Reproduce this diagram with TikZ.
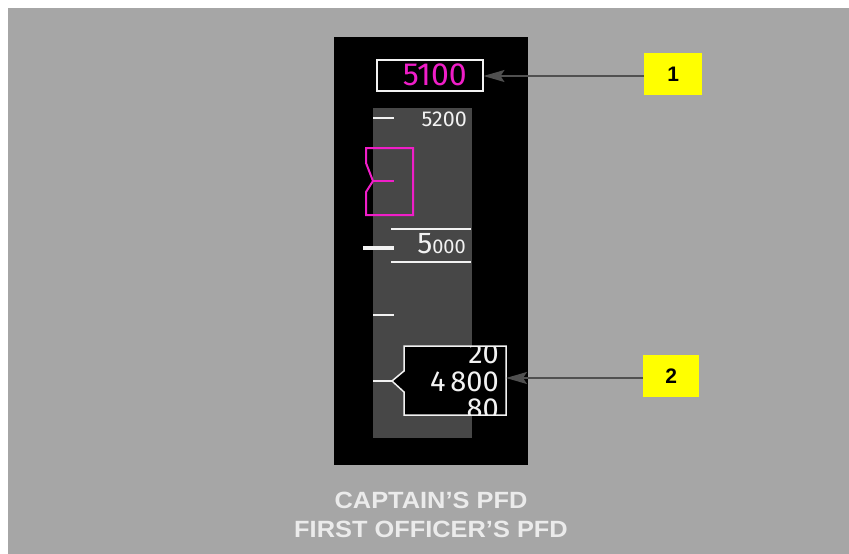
\documentclass[tikz,border=0pt]{standalone}
\usepackage{fontspec}
\setmainfont{Liberation Sans}
\newfontfamily\pfdfont{Fira Sans}
\usetikzlibrary{arrows.meta}
\definecolor{bggray}{HTML}{A6A6A6}
\definecolor{tapegray}{HTML}{474747}
\definecolor{pfdmag}{RGB}{240,30,200}
\definecolor{pfdwhite}{HTML}{F2F2F2}
\definecolor{capgray}{HTML}{EBEBEB}
\definecolor{arrowgray}{HTML}{505050}
\definecolor{calloutyellow}{HTML}{FFFF00}
\tikzset{
  x=1pt, y=-1pt,
  pfdtext/.style={inner sep=0pt, anchor=base east, text=pfdwhite},
  tickline/.style={draw=pfdwhite, line width=2pt},
  callout/.style={fill=calloutyellow, inner sep=0pt, font=\fontsize{21}{21}\selectfont\bfseries, text=black},
  callarrow/.style={draw=arrowgray, line width=1.6pt, -{Stealth[length=21pt, width=12pt, inset=4pt]}},
  captiontext/.style={inner sep=0pt, anchor=base, text=capgray, font=\fontsize{23.5}{29}\selectfont\bfseries, xscale=1.08},
}
\begin{document}
\begin{tikzpicture}
\useasboundingbox (0,0) rectangle (849,554);
\fill[white] (0,0) rectangle (849,554);
\fill[bggray] (8,8) rectangle (849,554);
% panel and tape
\fill[black] (334,37) rectangle (528,465);
\fill[tapegray] (373,108) rectangle (472,438);
% selected altitude box
\node[draw=pfdwhite, line width=1.5pt, minimum width=106pt, minimum height=31pt, inner sep=0pt, anchor=north west] (sel) at (376,59) {};
\node[pfdtext, text=pfdmag, font=\pfdfont\fontsize{32}{32}\selectfont] (seltext) at (467,85) {5100};
% 5200
\draw[tickline] (373,118) -- (394,118);
\node[pfdtext, font=\pfdfont\fontsize{21.5}{21.5}\selectfont] (t5200) at (467,126) {5200};
% magenta bug
\draw[pfdmag, line width=2pt] (366,148) -- (413,148) -- (413,215) -- (366,215) -- (366,192) -- (373,181) -- (366,163) -- cycle;
\draw[pfdmag, line width=2pt] (373,181) -- (394,181);
% 5000
\draw[pfdwhite, line width=1.5pt] (391,229) -- (471,229);
\draw[pfdwhite, line width=1.5pt] (391,262) -- (471,262);
\draw[pfdwhite, line width=3.5pt] (363,248) -- (394,248);
\node[pfdtext, font=\pfdfont\fontsize{20}{20}\selectfont] (t5000) at (466,253) {{\fontsize{30}{30}\selectfont 5}000};
% tick
\draw[tickline] (373,315) -- (394,315);
% current altitude box
\draw[tickline] (373,381) -- (392,381);
\fill[black] (404,346) -- (506,346) -- (506,415) -- (404,415) -- (404,392) -- (392,381) -- (404,371) -- cycle;
\begin{scope}
\clip (404,346) rectangle (506,415);
\node[pfdtext, font=\pfdfont\fontsize{29}{29}\selectfont] (t20) at (499,363) {20};
\node[pfdtext, font=\pfdfont\fontsize{29}{29}\selectfont] (t80) at (499,418) {80};
\end{scope}
\draw[pfdwhite, line width=1.5pt] (404,346) -- (506,346) -- (506,415) -- (404,415) -- (404,392) -- (392,381) -- (404,371) -- cycle;
\coordinate (curE) at (506,378);
\node[pfdtext, font=\pfdfont\fontsize{29}{29}\selectfont] (t4800) at (499,391) {4\,800};
% callouts
\node[callout, minimum width=58pt, minimum height=42pt, anchor=north west] (c1) at (644,53) {1};
\node[callout, minimum width=56pt, minimum height=42pt, anchor=north west] (c2) at (643,355) {2};
\draw[callarrow] (c1.west |- 0,76) -- (sel.east |- 0,76);
\draw[callarrow] (c2.west |- 0,378) -- (curE);
% captions
\node[captiontext] (cap1) at (431,508) {CAPTAIN’S PFD};
\node[captiontext] (cap2) at (431,537) {FIRST OFFICER’S PFD};
\end{tikzpicture}
\end{document}
